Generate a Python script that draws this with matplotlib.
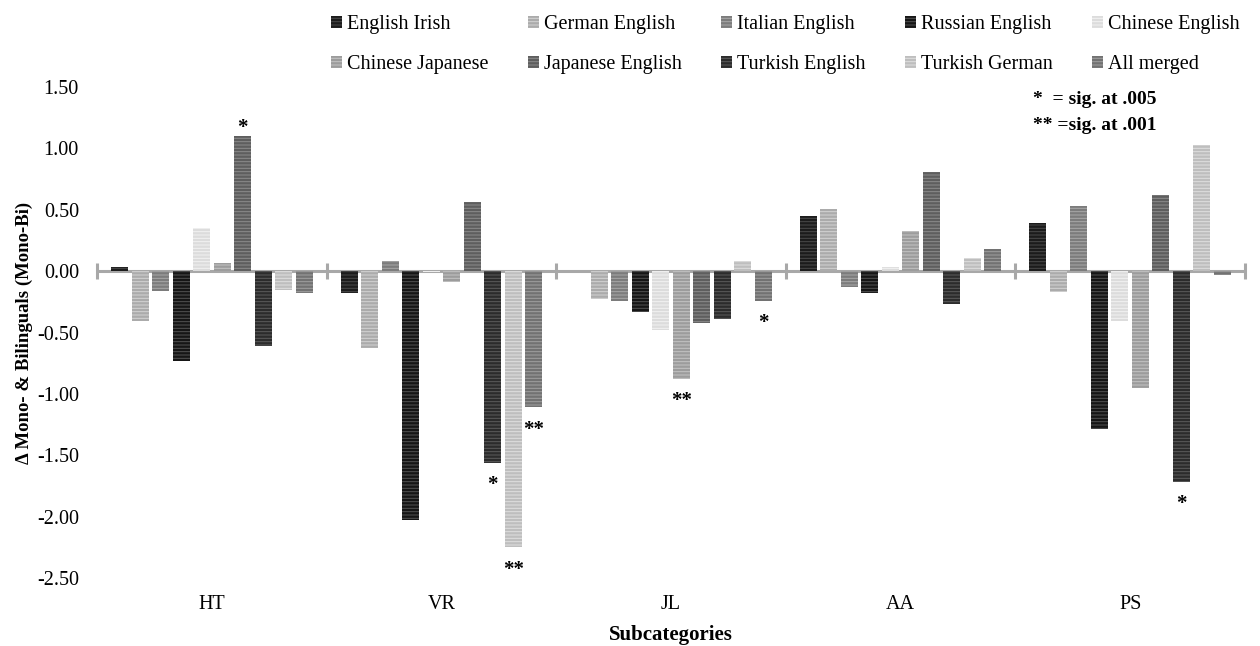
import matplotlib.pyplot as plt
import numpy as np

plt.rcParams['font.family'] = ['Liberation Serif', 'DejaVu Serif']
plt.rcParams['hatch.linewidth'] = 0.7

categories = ['HT', 'VR', 'JL', 'AA', 'PS']
series = ['English Irish', 'German English', 'Italian English', 'Russian English',
          'Chinese English', 'Chinese Japanese', 'Japanese English', 'Turkish English',
          'Turkish German', 'All merged']

# rows = series, columns = categories (HT, VR, JL, AA, PS)
english_irish = [0.03, -0.18, 0.00, 0.45, 0.39]
german_english = [-0.41, -0.63, -0.23, 0.51, -0.17]
italian_english = [-0.16, 0.08, -0.24, -0.13, 0.53]
russian_english = [-0.73, -2.03, -0.33, -0.18, -1.29]
chinese_english = [0.35, -0.01, -0.48, 0.03, -0.41]
chinese_japanese = [0.07, -0.09, -0.88, 0.33, -0.95]
japanese_english = [1.10, 0.56, -0.42, 0.81, 0.62]
turkish_english = [-0.61, -1.56, -0.39, -0.27, -1.72]
turkish_german = [-0.15, -2.25, 0.08, 0.11, 1.03]
all_merged = [-0.18, -1.11, -0.24, 0.18, -0.03]

values = [english_irish, german_english, italian_english, russian_english,
          chinese_english, chinese_japanese, japanese_english, turkish_english,
          turkish_german, all_merged]

# (category index, series index, marker)
significance = [(0, 6, '*'), (1, 7, '*'), (1, 8, '**'), (1, 9, '**'),
                (2, 5, '**'), (2, 9, '*'), (4, 7, '*')]

face_colors = ['#1c1c1c', '#ababab', '#7c7c7c', '#161616', '#dcdcdc',
               '#9c9c9c', '#5e5e5e', '#2c2c2c', '#bebebe', '#727272']
stripe_colors = ['#4a4a4a', '#d4d4d4', '#a8a8a8', '#525252', '#f2f2f2',
                 '#c4c4c4', '#8c8c8c', '#5c5c5c', '#e0e0e0', '#a0a0a0']

fig = plt.figure(figsize=(12.6, 6.46), dpi=100)
ax = fig.add_axes([97 / 1260, 1 - 578 / 646, (1245 - 97) / 1260, (578 - 87) / 646])

x = np.arange(len(categories))
slot = 0.0893
width = 0.074
bars = []
for i, (name, vals) in enumerate(zip(series, values)):
    b = ax.bar(x + (i - 4.5) * slot, vals, width, color=face_colors[i],
               edgecolor=stripe_colors[i], linewidth=0, hatch='-----',
               label=name, zorder=3)
    bars.append(b)

# significance markers
for ci, si, mark in significance:
    v = values[si][ci]
    xpos = x[ci] + (si - 4.5) * slot
    off = 6 if v > 0 else -16
    ax.annotate(mark, (xpos, v), xytext=(0, off), textcoords='offset points',
                ha='center', va='center', fontsize=15, fontweight='bold')

# zero line with category boundary ticks
ax.axhline(0, color='#a8a8a8', linewidth=2.2, zorder=2)
ax.vlines(np.arange(len(categories) + 1) - 0.5, -0.065, 0.065, color='#a8a8a8',
          linewidth=2.2, zorder=2, clip_on=False)

ax.set_xlim(-0.5, len(categories) - 0.5)
ax.set_ylim(-2.5, 1.5)
yt = np.arange(-2.5, 1.51, 0.5)
ax.set_yticks(yt)
ax.set_yticklabels([f'{t:.2f}' for t in yt])
ax.set_xticks(x)
ax.set_xticklabels(categories)
ax.tick_params(axis='y', length=0, pad=13, labelsize=14.5)
ax.tick_params(axis='x', length=0, pad=12, labelsize=14.5)
for s in ax.spines.values():
    s.set_visible(False)

ax.set_xlabel('Subcategories', fontsize=15, fontweight='bold', labelpad=8)
ax.set_ylabel('Δ Mono- & Bilinguals (Mono-Bi)', fontsize=13.5, fontweight='bold', labelpad=3)

ax.text(1033 / 1260, 1 - 100 / 646, '*  = sig. at .005', transform=fig.transFigure,
        fontsize=14, fontweight='bold', ha='left', va='center')
ax.text(1033 / 1260, 1 - 125 / 646, '** =sig. at .001', transform=fig.transFigure,
        fontsize=14, fontweight='bold', ha='left', va='center')

# legend: two rows of five, filled row by row
order = [0, 5, 1, 6, 2, 7, 3, 8, 4, 9]
handles = [bars[i] for i in order]
labels = [series[i] for i in order]
fig.legend(handles, labels, ncol=5, loc='upper left',
           bbox_to_anchor=(331 / 1260, 1 - 15 / 646),
           frameon=False, fontsize=14.5, handlelength=0.55, handleheight=0.55,
           handletextpad=0.25, columnspacing=1.95, labelspacing=1.05,
           borderpad=0, borderaxespad=0)

fig.savefig('out.png', dpi=100)
